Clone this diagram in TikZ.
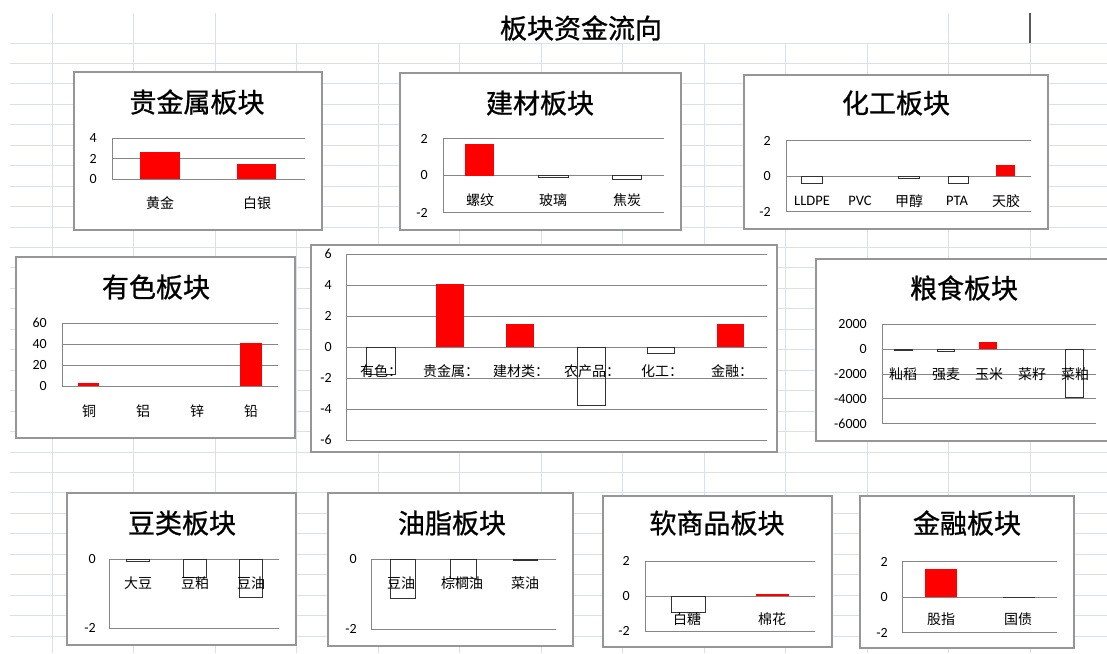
\documentclass[tikz,border=0pt]{standalone}
\usepackage{fontspec}
\newfontfamily\cjk{Noto Sans CJK SC}
\newfontfamily\cjkhead[FakeBold=0.9]{Noto Sans CJK SC}
\newfontfamily\numfont{Carlito}
\usepackage{tikz}
\definecolor{cellline}{RGB}{218,223,237}
\definecolor{framegray}{RGB}{150,150,150}
\definecolor{plotgray}{RGB}{134,134,134}
\tikzset{
    cell/.style={draw=cellline, line width=1pt},
    cursor/.style={draw=black!65, line width=2pt},
    chartbox/.style={draw=framegray, line width=1.2pt, fill=white},
    sheettitle/.style={font=\cjkhead\fontsize{27}{27}\selectfont, inner sep=0pt},
    charttitle/.style={font=\cjkhead\fontsize{27}{27}\selectfont, inner sep=0pt},
    plotline/.style={draw=plotgray, line width=1pt},
    posbar/.style={fill=red, draw=none},
    negbar/.style={draw=black!80, line width=1pt},
    ylab/.style={font=\numfont\fontsize{14}{14}\selectfont, anchor=east, inner sep=0pt},
    catlab/.style={font=\cjk\fontsize{14}{14}\selectfont, inner sep=0pt},
    latlab/.style={font=\numfont\fontsize{14.5}{14.5}\selectfont, inner sep=0pt}
}
\begin{document}
\begin{tikzpicture}[x=1pt, y=-1pt]
    \useasboundingbox (0,0) rectangle (1107,653);

    % Sheet
    \foreach \k in {0,...,29}
        \draw[cell] (10,{43+20.45*\k}) -- (1107,{43+20.45*\k});
    \foreach \k in {0,...,12}
        \draw[cell] ({52+81.5*\k},43) -- ({52+81.5*\k},653);
    \foreach \xc in {52,133.5,215,948.5,1030}
        \draw[cell] (\xc,13) -- (\xc,43);
    \coordinate (cur-top) at (1030,13);
    \coordinate (cur-bot) at (1030,43);
    \draw[cursor] (cur-top) -- (cur-bot);
    \node[sheettitle] (sheet-title) at (581,28) {板块资金流向};

    % 贵金属
    \draw[chartbox] (74,72) rectangle (322,230);
    \node[charttitle] (gj-title) at (197,102) {贵金属板块};
    \foreach \val in {0,2,4} {
        \draw[plotline] (112,{179-10.25*\val}) -- (305,{179-10.25*\val});
        \node[ylab] (gj-y\val) at (97,{179-10.25*\val}) {\val};
    }
    \draw[plotline] (112,138) -- (112,179);
    \foreach \xa/\xb/\val in {140/180/2.6, 237/276/1.5}
        \draw[posbar] (\xa,179) rectangle (\xb,{179-10.25*\val});
    \foreach \xc/\txt [count=\i] in {160/黄金, 257/白银}
        \node[catlab] (gj-c\i) at (\xc,203) {\txt};

    % 建材
    \draw[chartbox] (400,73) rectangle (681,230);
    \node[charttitle] (jc-title) at (540,103) {建材板块};
    \foreach \val in {-2,0,2} {
        \draw[plotline] (443,{175.5-18.5*\val}) -- (664,{175.5-18.5*\val});
        \node[ylab] (jc-y\val) at (428,{175.5-18.5*\val}) {\val};
    }
    \draw[plotline] (443,138.5) -- (443,212.5);
    \draw[posbar] (465,175.5) rectangle (494,{175.5-18.5*1.68});
    \foreach \xa/\xb/\val in {538/568/-0.1, 612/641/-0.2}
        \draw[negbar] (\xa,175.5) rectangle (\xb,{175.5-18.5*\val});
    \foreach \xc/\txt [count=\i] in {480/螺纹, 553/玻璃, 627/焦炭}
        \node[catlab] (jc-c\i) at (\xc,200) {\txt};

    % 化工
    \draw[chartbox] (744,75) rectangle (1048,229);
    \node[charttitle] (hg-title) at (896,103) {化工板块};
    \foreach \val in {-2,0,2} {
        \draw[plotline] (786,{176-17.75*\val}) -- (1031,{176-17.75*\val});
        \node[ylab] (hg-y\val) at (771,{176-17.75*\val}) {\val};
    }
    \draw[plotline] (786,140.5) -- (786,211.5);
    \foreach \xa/\xb/\val in {801/822/-0.45, 898/919/-0.15, 948/968/-0.45}
        \draw[negbar] (\xa,176) rectangle (\xb,{176-17.75*\val});
    \draw[posbar] (996,176) rectangle (1015,{176-17.75*0.62});
    \foreach \xc/\txt/\sty [count=\i] in {812/LLDPE/latlab, 860/PVC/latlab, 909/甲醇/catlab, 957/PTA/latlab, 1006/天胶/catlab}
        \node[\sty] (hg-c\i) at (\xc,201) {\txt};

    % 有色
    \draw[chartbox] (16,257) rectangle (295,438);
    \node[charttitle] (ys-title) at (156,287) {有色板块};
    \foreach \val in {0,20,40,60} {
        \draw[plotline] (62,{386-1.05*\val}) -- (278,{386-1.05*\val});
        \node[ylab] (ys-y\val) at (47,{386-1.05*\val}) {\val};
    }
    \draw[plotline] (62,323) -- (62,386);
    \foreach \xa/\xb/\val in {78/99/3.3, 240/262/41}
        \draw[posbar] (\xa,386) rectangle (\xb,{386-1.05*\val});
    \foreach \xc/\txt [count=\i] in {89/铜, 143/铝, 197/锌, 251/铅}
        \node[catlab] (ys-c\i) at (\xc,411) {\txt};

    % 汇总
    \draw[chartbox] (311,245) rectangle (777,452);
    \foreach \val in {-6,-4,...,6} {
        \draw[plotline] (346,{347-15.5*\val}) -- (767,{347-15.5*\val});
        \node[ylab] (hz-y\val) at (332,{347-15.5*\val}) {\val};
    }
    \draw[plotline] (346,254) -- (346,440);
    \foreach \xa/\xb/\val in {436/464/4.06, 506/534/1.5, 717/744/1.5}
        \draw[posbar] (\xa,347) rectangle (\xb,{347-15.5*\val});
    \foreach \xa/\xb/\val in {366/395/-1.75, 577/605/-3.8, 647/674/-0.4}
        \draw[negbar] (\xa,347) rectangle (\xb,{347-15.5*\val});
    \foreach \xc/\txt [count=\i] in {381/有色：, 451/贵金属：, 521/建材类：, 592/农产品：, 662/化工：, 732/金融：}
        \node[catlab] (hz-c\i) at (\xc,371) {\txt};

    % 粮食
    \draw[chartbox] (816,259) rectangle (1118,441);
    \node[charttitle] (ls-title) at (964,288) {粮食板块};
    \foreach \val in {-6000,-4000,...,2000} {
        \draw[plotline] (882,{349-0.0125*\val}) -- (1096,{349-0.0125*\val});
        \node[ylab] (ls-y\val) at (867,{349-0.0125*\val}) {\val};
    }
    \draw[plotline] (882,324) -- (882,424);
    \draw[posbar] (979,349) rectangle (997,{349-0.0125*550});
    \foreach \xa/\xb/\val in {894/912/-100, 937/954/-200, 1065/1083/-3850}
        \draw[negbar] (\xa,349) rectangle (\xb,{349-0.0125*\val});
    \foreach \xc/\txt [count=\i] in {903/籼稻, 946/强麦, 989/玉米, 1032/菜籽, 1075/菜粕}
        \node[catlab] (ls-c\i) at (\xc,374) {\txt};

    % 豆类
    \draw[chartbox] (67,493) rectangle (296,645);
    \node[charttitle] (dl-title) at (182,523) {豆类板块};
    \foreach \val in {-2,0} {
        \draw[plotline] (109,{559-34.5*\val}) -- (279,{559-34.5*\val});
        \node[ylab] (dl-y\val) at (96,{559-34.5*\val}) {\val};
    }
    \draw[plotline] (109,559) -- (109,628);
    \foreach \xa/\xb/\val in {126/149/-0.08, 183/206/-0.53, 239/262/-1.13}
        \draw[negbar] (\xa,559) rectangle (\xb,{559-34.5*\val});
    \foreach \xc/\txt [count=\i] in {138/大豆, 195/豆粕, 251/豆油}
        \node[catlab] (dl-c\i) at (\xc,583) {\txt};

    % 油脂
    \draw[chartbox] (328,493) rectangle (573,646);
    \node[charttitle] (yz-title) at (452,523) {油脂板块};
    \foreach \val in {-2,0} {
        \draw[plotline] (371,{559-35*\val}) -- (556,{559-35*\val});
        \node[ylab] (yz-y\val) at (357,{559-35*\val}) {\val};
    }
    \draw[plotline] (371,559) -- (371,629);
    \foreach \xa/\xb/\val in {390/415/-1.13, 450/476/-0.55, 513/537/-0.05}
        \draw[negbar] (\xa,559) rectangle (\xb,{559-35*\val});
    \foreach \xc/\txt [count=\i] in {401/豆油, 462/棕榈油, 525/菜油}
        \node[catlab] (yz-c\i) at (\xc,583) {\txt};

    % 软商品
    \draw[chartbox] (603,496) rectangle (832,647);
    \node[charttitle] (rs-title) at (717,523) {软商品板块};
    \foreach \val in {-2,0,2} {
        \draw[plotline] (645,{596-17.5*\val}) -- (815,{596-17.5*\val});
        \node[ylab] (rs-y\val) at (630,{596-17.5*\val}) {\val};
    }
    \draw[plotline] (645,561) -- (645,631);
    \draw[negbar] (671,596) rectangle (705,{596+17.5*0.97});
    \draw[posbar] (756,596) rectangle (789,{596-17.5*0.12});
    \foreach \xc/\txt [count=\i] in {687/白糖, 772/棉花}
        \node[catlab] (rs-c\i) at (\xc,619) {\txt};

    % 金融
    \draw[chartbox] (860,496) rectangle (1074,648);
    \node[charttitle] (jr-title) at (967,523) {金融板块};
    \foreach \val in {-2,0,2} {
        \draw[plotline] (902,{597-17.75*\val}) -- (1057,{597-17.75*\val});
        \node[ylab] (jr-y\val) at (888,{597-17.75*\val}) {\val};
    }
    \draw[plotline] (902,561.5) -- (902,632.5);
    \draw[posbar] (925,597) rectangle (957,{597-17.75*1.57});
    \draw[negbar] (1003,597) rectangle (1034,{597+17.75*0.05});
    \foreach \xc/\txt [count=\i] in {941/股指, 1018/国债}
        \node[catlab] (jr-c\i) at (\xc,619) {\txt};
\end{tikzpicture}
\end{document}
